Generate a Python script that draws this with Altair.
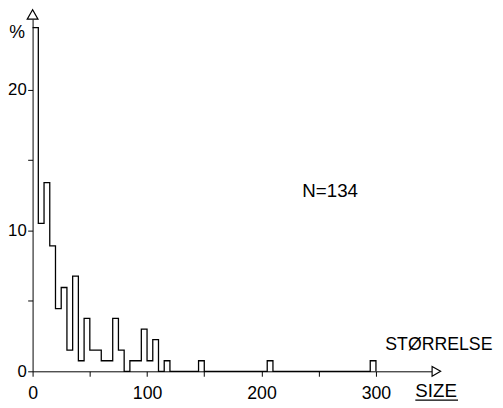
import altair as alt
import pandas as pd

# bin left edges (size units, bin width 5) with non-zero share (%)
bin_start = [0, 5, 10, 15, 20, 25, 30, 35, 40, 45, 50, 55, 60, 65, 70, 75,
             85, 90, 95, 100, 105, 115, 145, 205, 295]
pct = [24.4, 10.5, 13.4, 8.9, 4.45, 5.95, 1.5, 6.75, 0.75, 3.75, 1.5, 1.5,
       0.75, 0.75, 3.75, 1.5, 0.75, 0.75, 3.0, 0.75, 2.25, 0.75, 0.75, 0.75, 0.75]
bin_width = 5
x_ticks = [0, 50, 100, 150, 200, 250, 300]
y_ticks = [0, 5, 10, 15, 20]

lookup = dict(zip(bin_start, pct))
edges = list(range(0, 300 + bin_width, bin_width))
df = pd.DataFrame({"size": edges, "pct": [lookup.get(e, 0.0) for e in edges]})

FONT = "Liberation Sans"
XMAX = 349
YMAX = 25
xs = alt.Scale(domain=[0, XMAX], nice=False, zero=False)
ys = alt.Scale(domain=[0, YMAX], nice=False)

hist = alt.Chart(df).mark_line(interpolate="step-after", color="black", strokeWidth=1.3).encode(
    x=alt.X("size:Q", scale=xs,
            axis=alt.Axis(values=x_ticks, labelExpr="datum.value % 100 == 0 ? datum.label : ''",
                          tickSize=5, labelPadding=9, title=None, grid=False,
                          labelFontSize=18, labelFont=FONT, labelColor="black",
                          domainColor="black", tickColor="black", labelFlush=False)),
    y=alt.Y("pct:Q", scale=ys,
            axis=alt.Axis(values=y_ticks, labelExpr="datum.value % 10 == 0 ? datum.label : ''",
                          tickSize=5, labelPadding=1.5, title=None, grid=False,
                          labelFontSize=17, labelFont=FONT, labelColor="black",
                          domainColor="black", tickColor="black")),
)

up_arrow = alt.Chart().mark_point(shape="triangle-up", size=120, filled=True, fill="white",
                                  stroke="black", strokeWidth=1.2, opacity=1, yOffset=-4.75).encode(
    x=alt.datum(0, scale=xs), y=alt.datum(YMAX, scale=ys))
right_arrow = alt.Chart().mark_point(shape="triangle-right", size=100, filled=True, fill="white",
                                     stroke="black", strokeWidth=1.2, opacity=1, xOffset=4.4).encode(
    x=alt.datum(XMAX, scale=xs), y=alt.datum(0, scale=ys))

def label(txt, x, y, align="center", size=18):
    return alt.Chart().mark_text(text=txt, font=FONT, fontSize=size, color="black",
                                 align=align, baseline="middle").encode(
        x=alt.datum(x, scale=xs), y=alt.datum(y, scale=ys))

pct_lbl = label("%", -13.6, 24.0)
n_lbl = label("N=134", 260, 12.78, size=19)
st_lbl = label("STØRRELSE", 401.8, 1.88, align="right")
size_lbl = label("SIZE", 334.4, -1.41, align="left", size=19)
underline = alt.Chart().mark_rule(color="black", strokeWidth=1.2).encode(
    x=alt.datum(334.4, scale=xs), x2=alt.datum(371.7), y=alt.datum(-2.04, scale=ys))

chart = alt.layer(hist, up_arrow, right_arrow, pct_lbl, n_lbl, st_lbl, size_lbl, underline).properties(
    width=406, height=358,
    autosize=alt.AutoSizeParams(type="none"),
    padding={"left": 25, "top": 8, "right": 64, "bottom": 34},
).configure_view(stroke=None)

chart.save("out.html", embed_options={"renderer": "svg", "actions": False})
